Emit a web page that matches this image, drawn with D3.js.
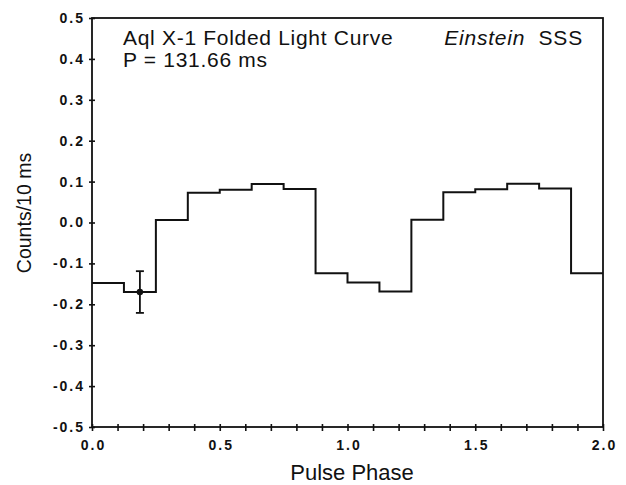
<!DOCTYPE html>
<html><head><meta charset="utf-8">
<script src="https://cdn.jsdelivr.net/npm/d3@7"></script>
<style>body{margin:0;background:#fff}svg{display:block}</style>
</head><body>
<svg id="c" width="626" height="485"></svg>
<script>
// ---- data ----
const binStarts = [0,0.125,0.25,0.375,0.5,0.625,0.75,0.875,1.0,1.125,1.25,1.375,1.5,1.625,1.75,1.875];
const counts    = [-0.148,-0.170,0.006,0.073,0.080,0.094,0.082,-0.124,-0.147,-0.169,0.007,0.074,0.081,0.095,0.083,-0.124];
const phaseEnd = 2.0;
const errPhase = [0.1875];
const errValue = [-0.170];
const errSize  = [0.051];
const yTicks = [-0.5,-0.4,-0.3,-0.2,-0.1,0.0,0.1,0.2,0.3,0.4,0.5];
const xMajor = [0,0.5,1.0,1.5,2.0];
const xMinor = [0,0.1,0.2,0.3,0.4,0.5,0.6,0.7,0.8,0.9,1.0,1.1,1.2,1.3,1.4,1.5,1.6,1.7,1.8,1.9,2.0];
const title1 = "Aql X-1 Folded Light Curve";
const title2 = "P = 131.66 ms";
const xLabel = "Pulse Phase";
const yLabel = "Counts/10 ms";

// ---- chart ----
const svg = d3.select("#c");
const L=92, R=603, T=18, B=427;
const x = d3.scaleLinear().domain([0,2]).range([L,R]);
const y = d3.scaleLinear().domain([-0.5,0.5]).range([B,T]);
const font = "'Liberation Sans', Arial, Helvetica, sans-serif";
const fmt = d => d.toFixed(1);

// frame
svg.append("rect").attr("x",L).attr("y",T).attr("width",R-L).attr("height",B-T)
  .attr("fill","none").attr("stroke","#111").attr("stroke-width",1.8);

// y ticks (crossing)
const yAxL = d3.axisLeft(y).tickValues(yTicks).tickSize(3).tickPadding(6).tickFormat(fmt);
const gy = svg.append("g").attr("transform",`translate(${L},0)`).call(yAxL);
svg.append("g").attr("transform",`translate(${L},0)`)
  .call(d3.axisRight(y).tickValues(yTicks).tickSize(3).tickFormat(""));
// x ticks
const gx = svg.append("g").attr("transform",`translate(0,${B})`)
  .call(d3.axisBottom(x).tickValues(xMinor).tickSize(4).tickPadding(9)
        .tickFormat(d => xMajor.some(m=>Math.abs(m-d)<1e-9) ? fmt(d) : ""));
svg.append("g").attr("transform",`translate(0,${B})`)
  .call(d3.axisTop(x).tickValues(xMinor).tickSize(3).tickFormat(""));

svg.selectAll(".domain").remove();
svg.selectAll(".tick line").attr("stroke","#111").attr("stroke-width",1.6);
svg.selectAll(".tick text").attr("fill","#111").style("font-family",font)
  .style("font-size","14px").style("font-weight","bold").style("letter-spacing","2px");
gy.selectAll(".tick text").attr("dx","2px");
gx.selectAll(".tick text").attr("dx","1px");

// step histogram
const pts = binStarts.map((b,i)=>[b,counts[i]]);
pts.push([phaseEnd, counts[counts.length-1]]);
const line = d3.line().x(d=>x(d[0])).y(d=>y(d[1])).curve(d3.curveStepAfter);
svg.append("path").attr("d",line(pts)).attr("fill","none")
  .attr("stroke","#111").attr("stroke-width",2);

// error bar
errPhase.forEach((p,i)=>{
  const cx=x(p), y0=y(errValue[i]-errSize[i]), y1=y(errValue[i]+errSize[i]);
  const g=svg.append("g").attr("stroke","#111").attr("stroke-width",1.8);
  g.append("line").attr("x1",cx).attr("x2",cx).attr("y1",y0).attr("y2",y1);
  g.append("line").attr("x1",cx-4).attr("x2",cx+4).attr("y1",y0).attr("y2",y0);
  g.append("line").attr("x1",cx-4).attr("x2",cx+4).attr("y1",y1).attr("y2",y1);
  svg.append("circle").attr("cx",cx).attr("cy",y(errValue[i])).attr("r",3.2).attr("fill","#111");
});

// texts
const t = svg.append("g").attr("fill","#111").style("font-family",font).style("font-size","21px");
t.append("text").attr("x",123).attr("y",45).style("letter-spacing","0.7px").text(title1);
t.append("text").attr("x",123).attr("y",67).style("letter-spacing","0.7px").text(title2);
const e = t.append("text").attr("x",583).attr("y",45).attr("text-anchor","end").style("letter-spacing","0.8px");
e.append("tspan").style("font-style","italic").text("Einstein");
e.append("tspan").text("\u00a0\u00a0SSS");

svg.append("text").attr("x",352).attr("y",480).attr("text-anchor","middle")
  .style("font-family",font).style("font-size","22px").attr("fill","#111").text(xLabel);
svg.append("text").attr("transform","translate(31,213) rotate(-90)").attr("text-anchor","middle")
  .style("font-family",font).style("font-size","19.5px").attr("fill","#111").text(yLabel);
</script>
</body></html>
